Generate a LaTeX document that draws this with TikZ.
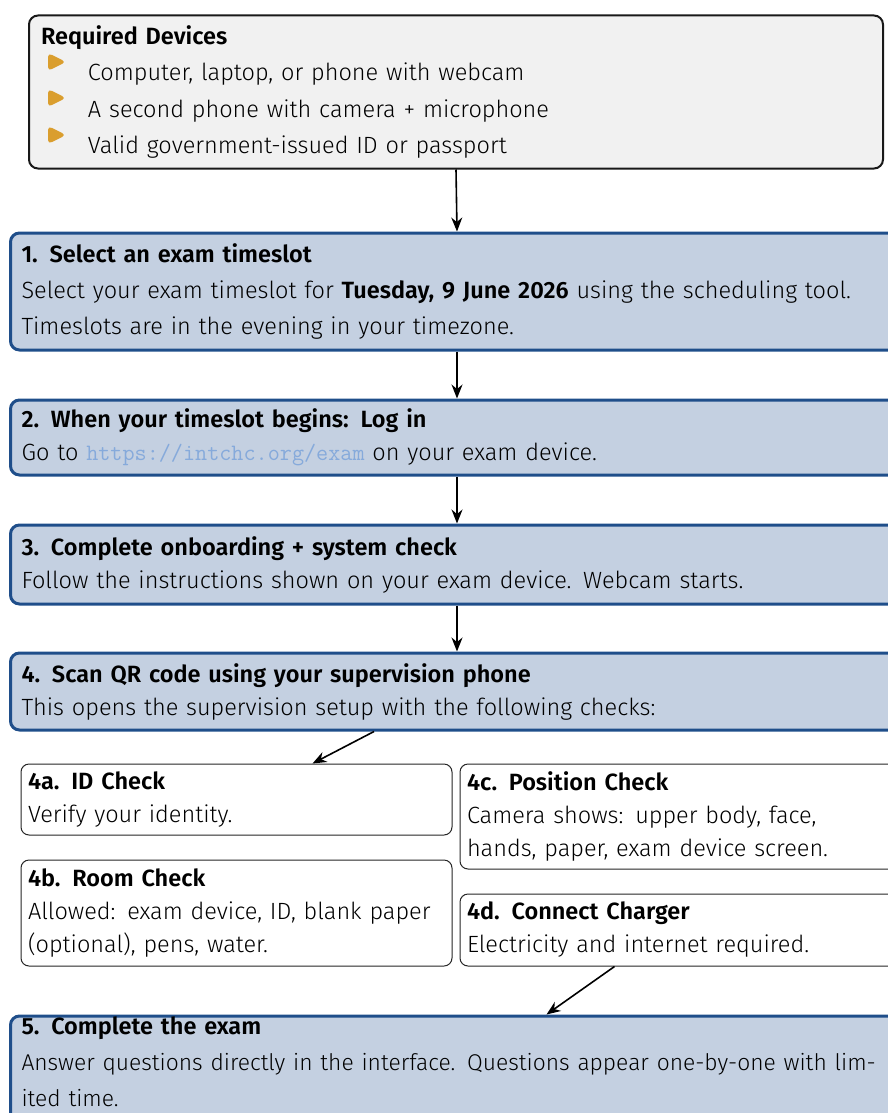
\documentclass[tikz,border=0pt]{standalone}
\usepackage{fontspec}
\setmainfont{Fira Sans}[UprightFont={* Light}, BoldFont={* SemiBold}]
\usetikzlibrary{arrows.meta,calc,positioning}
\definecolor{stepblue}{HTML}{1F4E8A}
\definecolor{stepfill}{HTML}{C4D0E1}
\definecolor{devgray}{HTML}{F1F1F1}
\definecolor{devorange}{HTML}{DA9E2E}
\definecolor{urlblue}{HTML}{86AADB}
\tikzset{
	stepbox/.style={draw=stepblue, line width=3pt, fill=stepfill, rounded corners=9pt, anchor=north west,
		align=left, inner xsep=11pt, inner ysep=0pt, text width=871pt,
		font=\fontsize{23.5}{36}\selectfont},
	checkbox/.style={draw=black!85, line width=1pt, fill=white, rounded corners=8pt, anchor=north west,
		align=left, inner xsep=7pt, inner ysep=0pt,
		font=\fontsize{23.5}{33}\selectfont},
	flow/.style={line width=1.6pt, -{Stealth[length=14pt,width=11pt]}},
}

\begin{document}
\begin{tikzpicture}[x=1pt, y=-1pt]
		\useasboundingbox (0,0) rectangle (887,1113);
		% required devices
		\node [draw=black!90, line width=2pt, fill=devgray, rounded corners=9pt, anchor=north west,
			align=left, inner xsep=12pt, inner ysep=0pt, text width=830pt, minimum height=153pt,
			font=\fontsize{23.5}{36.5}\selectfont] (devices) at (28,14.5)
			{\textbf{Required Devices}\\
			\hspace*{47pt}Computer, laptop, or phone with webcam\\
			\hspace*{47pt}A second phone with camera + microphone\\
			\hspace*{47pt}Valid government-issued ID or passport};
		\fill [devorange, rounded corners=4pt] (48,53) -- (66,62) -- (48,71) -- cycle;
		\fill [devorange, rounded corners=4pt] (48,89) -- (66,98) -- (48,107) -- cycle;
		\fill [devorange, rounded corners=4pt] (48,126) -- (66,135) -- (48,144) -- cycle;
		% steps
		\node [stepbox, minimum height=117pt] (select) at (9,231.5)
			{\textbf{1. Select an exam timeslot}\\
			Select your exam timeslot for \textbf{Tuesday, 9 June 2026} using the scheduling tool.\\
			Timeslots are in the evening in your timezone.};
		\node [stepbox, minimum height=75pt] (login) at (9,398.5)
			{\textbf{2. When your timeslot begins: Log in}\\[-3pt]
			Go to {\fontsize{23.5}{33}\ttfamily\color{urlblue}https://intchc.org/exam} on your exam device.};
		\node [stepbox, minimum height=79pt] (onboard) at (9,523.5)
			{\textbf{3. Complete onboarding + system check}\\[-3pt]
			Follow the instructions shown on your exam device. Webcam starts.};
		\node [stepbox, minimum height=77pt] (scan) at (9,651.5)
			{\textbf{4. Scan QR code using your supervision phone}\\[-3pt]
			This opens the supervision setup with the following checks:};
		% checks
		\node [checkbox, text width=417pt, minimum height=71pt] (idcheck) at (20.5,763.5)
			{\textbf{4a. ID Check}\\
			Verify your identity.};
		\node [checkbox, text width=417pt, minimum height=106pt] (room) at (20.5,859.5)
			{\textbf{4b. Room Check}\\
			Allowed: exam device, ID, blank paper\\
			(optional), pens, water.};
		\node [checkbox, text width=425pt, minimum height=105pt] (position) at (459.5,763.5)
			{\textbf{4c. Position Check}\\
			Camera shows: upper body, face,\\
			hands, paper, exam device screen.};
		\node [checkbox, text width=425pt, minimum height=72pt] (charger) at (459.5,893.5)
			{\textbf{4d. Connect Charger}\\
			Electricity and internet required.};
		\node [stepbox, text width=900pt, minimum height=106pt] (finish) at (9,1014.5)
			{\textbf{5. Complete the exam}\\
			{\fontsize{22.8}{37}\selectfont Answer questions directly in the interface. Questions appear one-by-one with lim-}\\
			{\fontsize{22.8}{37}\selectfont ited time.}\\[-21pt]\mbox{}};
		% arrows
		\draw [flow] (devices.south) -- (select.north);
		\draw [flow] (select.south) -- (login.north);
		\draw [flow] (login.south) -- (onboard.north);
		\draw [flow] (onboard.south) -- (scan.north);
		\draw [flow] ([xshift=-83pt]scan.south) -- ([xshift=76pt]idcheck.north);
		\draw [flow] ([xshift=-65pt]charger.south) -- ([xshift=75pt]finish.north);
		\end{tikzpicture}
\end{document}
